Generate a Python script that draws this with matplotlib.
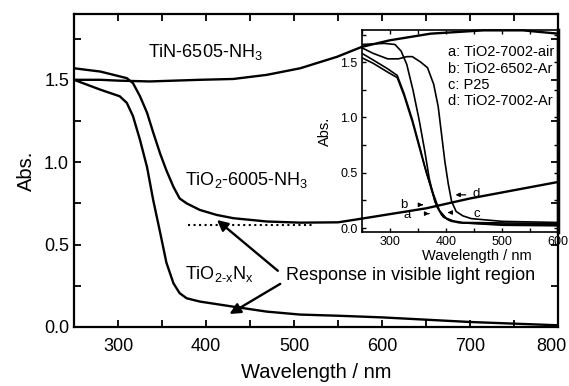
import matplotlib
matplotlib.use("Agg")
import matplotlib.pyplot as plt
import matplotlib.transforms as mtransforms
from matplotlib.ticker import MultipleLocator

plt.rcParams['font.family'] = ['Liberation Sans', 'DejaVu Sans']
plt.rcParams['mathtext.fontset'] = 'custom'
plt.rcParams['mathtext.rm'] = 'Liberation Sans'
plt.rcParams['mathtext.it'] = 'Liberation Sans'

# main spectra (wavelength nm, absorbance)
tin_wl = [250, 280, 300, 336, 393, 431, 469, 507, 549, 577, 609, 655, 715, 760, 800]
tin_abs = [1.50, 1.50, 1.495, 1.49, 1.50, 1.505, 1.53, 1.57, 1.64, 1.70, 1.74, 1.78, 1.80, 1.80, 1.78]

tio2_wl = [250, 280, 310, 317, 325, 333, 340, 348, 355, 363, 370, 378, 393, 412, 431, 469, 507,
           550, 580, 615, 650, 700, 750, 800]
tio2_abs = [1.57, 1.55, 1.51, 1.48, 1.40, 1.30, 1.18, 1.05, 0.95, 0.85, 0.78, 0.75, 0.71, 0.68,
            0.66, 0.64, 0.633, 0.635, 0.66, 0.69, 0.72, 0.78, 0.83, 0.88]

tion_wl = [250, 280, 302, 310, 317, 325, 333, 340, 348, 355, 363, 370, 378, 393, 431, 469, 507,
           550, 600, 700, 800]
tion_abs = [1.50, 1.44, 1.40, 1.36, 1.28, 1.135, 0.97, 0.77, 0.57, 0.39, 0.265, 0.205, 0.174,
            0.154, 0.123, 0.093, 0.075, 0.068, 0.058, 0.03, 0.01]

# inset spectra
a_wl = [250, 270, 296, 313, 325, 340, 355, 362, 375, 384, 395, 410, 430, 500, 600]
a_abs = [1.58, 1.52, 1.44, 1.38, 1.22, 0.98, 0.70, 0.56, 0.33, 0.19, 0.10, 0.06, 0.045, 0.035, 0.03]
b_wl = [250, 270, 296, 313, 325, 340, 355, 365, 378, 388, 400, 420, 500, 600]
b_abs = [1.54, 1.49, 1.41, 1.36, 1.20, 0.96, 0.68, 0.50, 0.30, 0.16, 0.09, 0.05, 0.025, 0.02]
c_wl = [250, 290, 309, 320, 330, 341, 352, 362, 370, 380, 392, 405, 430, 600]
c_abs = [1.66, 1.67, 1.66, 1.60, 1.48, 1.25, 0.98, 0.70, 0.45, 0.24, 0.12, 0.07, 0.05, 0.04]
d_wl = [250, 270, 296, 315, 330, 340, 355, 367, 378, 386, 392, 398, 404, 410, 418, 430, 445, 500, 600]
d_abs = [1.63, 1.58, 1.53, 1.53, 1.55, 1.55, 1.50, 1.45, 1.30, 1.10, 0.85, 0.60, 0.40, 0.24, 0.15,
         0.11, 0.085, 0.06, 0.05]

inset_legend = ["a: TiO2-7002-air", "b: TiO2-6502-Ar", "c: P25", "d: TiO2-7002-Ar"]

fig = plt.figure(figsize=(5.69, 3.86), dpi=100)
ax = fig.add_axes([0.130, 0.153, 0.851, 0.811])

ax.plot(tin_wl, tin_abs, color='k', lw=1.7)
ax.plot(tio2_wl, tio2_abs, color='k', lw=1.7)
ax.plot(tion_wl, tion_abs, color='k', lw=1.7)
ax.plot([380, 524], [0.62, 0.62], color='k', ls=':', lw=1.5)

ax.text(334, 1.67, r"TiN-6505-NH$_\mathregular{3}$", fontsize=13, va='center')
ax.text(376, 0.89, r"TiO$_\mathregular{2}$-6005-NH$_\mathregular{3}$", fontsize=13, va='center')
ax.text(376, 0.32, r"TiO$_\mathregular{2\text{-}x}$N$_\mathregular{x}$", fontsize=13, va='center')
ax.text(491, 0.31, "Response in visible light region", fontsize=13, va='center')
ax.annotate("", xy=(410, 0.66), xytext=(484, 0.33),
            arrowprops=dict(arrowstyle='-|>', lw=1.7, color='k', mutation_scale=16))
ax.annotate("", xy=(424, 0.07), xytext=(487, 0.27),
            arrowprops=dict(arrowstyle='-|>', lw=1.7, color='k', mutation_scale=16))

ax.set_xlim(250, 800)
ax.set_ylim(0, 1.9)
ax.xaxis.set_major_locator(MultipleLocator(100))
ax.xaxis.set_minor_locator(MultipleLocator(50))
ax.yaxis.set_major_locator(MultipleLocator(0.5))
ax.yaxis.set_minor_locator(MultipleLocator(0.25))
ax.tick_params(which='both', direction='in', top=True, right=True, width=1.3, length=5, labelsize=13)
ax.tick_params(axis='x', pad=8)
ax.set_xlabel("Wavelength / nm", fontsize=14.5, labelpad=6)
ax.set_ylabel("Abs.", fontsize=14.5, labelpad=6)
for s in ax.spines.values():
    s.set_linewidth(1.6)

# nudge the last x tick label ("800") left so it stays inside the figure
fig.canvas.draw()
shift = mtransforms.ScaledTranslation(-5 / 72, 0, fig.dpi_scale_trans)
last = [t for t in ax.xaxis.get_major_ticks() if abs(t.get_loc() - 800) < 1][0]
last.label1.set_transform(last.label1.get_transform() + shift)

ins = fig.add_axes([0.636, 0.399, 0.345, 0.523])
ins.patch.set_alpha(0)
for wl, ab in [(a_wl, a_abs), (b_wl, b_abs), (c_wl, c_abs), (d_wl, d_abs)]:
    ins.plot(wl, ab, color='k', lw=1.2)

for i, t in enumerate(inset_legend):
    ins.text(0.44, 0.89 - i * 0.081, t, transform=ins.transAxes, fontsize=10.5, va='center')

ins.text(318, 0.21, "b", fontsize=9.5, va='center')
ins.text(325, 0.12, "a", fontsize=9.5, va='center')
ins.text(447, 0.31, "d", fontsize=9.5, va='center')
ins.text(449, 0.13, "c", fontsize=9.5, va='center')
arrow = dict(arrowstyle='-|>', lw=0.9, color='k', mutation_scale=6)
ins.annotate("", xy=(412, 0.30), xytext=(440, 0.30), arrowprops=arrow)
ins.annotate("", xy=(398, 0.14), xytext=(411, 0.14), arrowprops=arrow)
ins.annotate("", xy=(375, 0.13), xytext=(364, 0.13), arrowprops=arrow)
ins.annotate("", xy=(364, 0.21), xytext=(352, 0.21), arrowprops=arrow)

ins.set_xlim(250, 600)
ins.set_ylim(-0.036, 1.79)
ins.xaxis.set_major_locator(MultipleLocator(100))
ins.xaxis.set_minor_locator(MultipleLocator(50))
ins.yaxis.set_major_locator(MultipleLocator(0.5))
ins.yaxis.set_minor_locator(MultipleLocator(0.25))
ins.tick_params(which='both', direction='in', top=True, right=True, width=1.0, length=3, labelsize=9, pad=3)
ins.set_xlabel("Wavelength / nm", fontsize=10.5)
ins.xaxis.set_label_coords(0.587, -0.085)
ins.set_ylabel("Abs.", fontsize=10.5)
ins.yaxis.set_label_coords(-0.15, 0.5)
for s in ins.spines.values():
    s.set_linewidth(1.2)
ins.spines['right'].set_linewidth(2.5)

fig.savefig("out.png", dpi=100)
